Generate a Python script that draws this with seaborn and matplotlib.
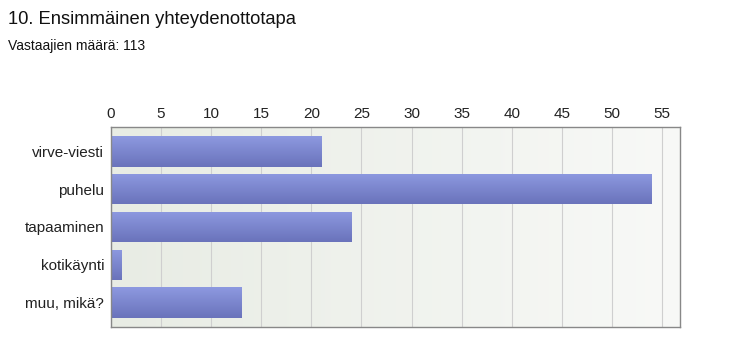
import numpy as np
import pandas as pd
import matplotlib
matplotlib.use("Agg")
from matplotlib import pyplot as plt
import seaborn as sns

# vastaukset
categories = ["virve-viesti", "puhelu", "tapaaminen", "kotikäynti", "muu, mikä?"]
counts = [21, 54, 24, 1, 13]
xticks = list(range(0, 60, 5))

df = pd.DataFrame({"vaihtoehto": categories, "lkm": counts})

sns.set_style("white")
plt.rcParams["font.family"] = ["Liberation Sans", "DejaVu Sans"]

fig = plt.figure(figsize=(7.33, 3.62), dpi=100)
ax = fig.add_axes([0.1514, 0.0967, 0.7763, 0.5525])

# taustan liukuväri
grad = np.linspace(0, 1, 256).reshape(1, -1)
cmap = matplotlib.colors.LinearSegmentedColormap.from_list("bg", ["#e8ece4", "#f8f9f7"])
ax.imshow(grad, extent=[0, 1, 0, 1], transform=ax.transAxes, aspect="auto",
          cmap=cmap, zorder=0)

sns.barplot(data=df, x="lkm", y="vaihtoehto", color="#7f8bd6", saturation=1,
            width=0.8, ax=ax, zorder=3)

xlim = (0, 56.8)
ylim = (4.65, -0.65)

# pylväiden pystysuuntainen liukuväri
bar_cmap = matplotlib.colors.LinearSegmentedColormap.from_list("bar", ["#8d99e0", "#6a73bb"])
vgrad = np.linspace(0, 1, 64).reshape(-1, 1)
for p in ax.patches:
    x0, y0 = p.get_x(), p.get_y()
    w, h = p.get_width(), p.get_height()
    p.set_edgecolor("none")
    im = ax.imshow(vgrad, extent=[x0, x0 + w, y0 + h, y0], aspect="auto",
                   cmap=bar_cmap, zorder=4, interpolation="bilinear")
    im.set_clip_path(p)
ax.set_xlim(*xlim)
ax.set_ylim(*ylim)

ax.set_xticks(xticks)
ax.xaxis.tick_top()
ax.tick_params(axis="x", length=0, pad=4, labelsize=11, colors="#222222")
ax.tick_params(axis="y", length=0, pad=5, labelsize=11, colors="#222222")
ax.set_xlabel("")
ax.set_ylabel("")
ax.grid(axis="x", color="#cfcfcf", linewidth=0.8, zorder=1)
ax.set_axisbelow(True)
for s in ax.spines.values():
    s.set_color("#888888")
    s.set_linewidth(1)
    s.set_zorder(5)

fig.text(0.011, 0.945, "10. Ensimmäinen yhteydenottotapa", fontsize=13.2, va="center", color="#111111")
fig.text(0.011, 0.873, "Vastaajien määrä: 113", fontsize=10, va="center", color="#111111")

fig.savefig("out.png", dpi=100)
